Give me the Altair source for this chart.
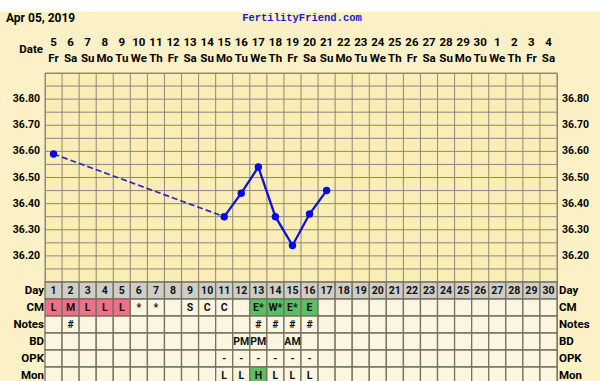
import altair as alt
import pandas as pd

# ---------------- data ----------------
days = list(range(1, 31))
date_nums = [5, 6, 7, 8, 9, 10, 11, 12, 13, 14, 15, 16, 17, 18, 19, 20, 21, 22, 23, 24,
             25, 26, 27, 28, 29, 30, 1, 2, 3, 4]
weekdays = ["Fr", "Sa", "Su", "Mo", "Tu", "We", "Th", "Fr", "Sa", "Su", "Mo", "Tu", "We", "Th",
            "Fr", "Sa", "Su", "Mo", "Tu", "We", "Th", "Fr", "Sa", "Su", "Mo", "Tu", "We", "Th",
            "Fr", "Sa"]

temp_days = [1, 11, 12, 13, 14, 15, 16, 17]
temps = [36.59, 36.35, 36.44, 36.54, 36.35, 36.24, 36.36, 36.45]

temp_labels = [36.20, 36.30, 36.40, 36.50, 36.60, 36.70, 36.80]
temp_grid = [36.10, 36.15, 36.20, 36.25, 36.30, 36.35, 36.40, 36.45, 36.50, 36.55,
             36.60, 36.65, 36.70, 36.75, 36.80, 36.85, 36.90]

row_names = ["Day", "CM", "Notes", "BD", "OPK", "Mon"]
cm_row = ["L", "M", "L", "L", "L", "*", "*", "", "S", "C", "C", "", "E*", "W*", "E*", "E"] + [""] * 14
notes_row = ["", "#"] + [""] * 10 + ["#", "#", "#", "#"] + [""] * 14
bd_row = [""] * 11 + ["PM", "PM", "", "AM"] + [""] * 15
opk_row = [""] * 10 + ["-", "-", "-", "-", "-", "-"] + [""] * 14
mon_row = [""] * 10 + ["L", "L", "H", "L", "L", "L"] + [""] * 14

cm_fill = ["pink"] * 5 + ["cream"] * 7 + ["green"] * 4 + ["cream"] * 14
mon_fill = ["cream"] * 12 + ["green"] + ["cream"] * 17

# ---------------- styling ----------------
OUTER = "#FCF1C6"
PLOT = "#FAEDB5"
CREAM = "#FCF5E2"
GRAY = "#CFCDC8"
PINK = "#EF7089"
GREEN = "#5DBE62"
GRID = "#8D8976"
TLINE = "#77735F"
FONT = "Roboto"
fill_map = {"cream": CREAM, "pink": PINK, "green": GREEN, "gray": GRAY}

X = alt.Scale(domain=[0.5, 30.5], nice=False, zero=False)
YT = alt.Scale(domain=[36.1, 36.9], range=[209, 0], nice=False, zero=False)
YR = alt.Scale(domain=[0, 6], range=[209, 311], nice=False, zero=False)

x_bounds = [d - 0.5 for d in days] + [30.5]

# ---------------- temperature part ----------------
dash_df = pd.DataFrame({"day": temp_days[:2], "temp": temps[:2]})
solid_df = pd.DataFrame({"day": temp_days[1:], "temp": temps[1:]})
pts_df = pd.DataFrame({"day": temp_days, "temp": temps})
lab_df = pd.DataFrame({"temp": temp_labels, "txt": [f"{t:.2f}" for t in temp_labels]})
vgrid_df = pd.DataFrame({"xb": x_bounds, "t0": [temp_grid[0]] * len(x_bounds),
                         "t1": [temp_grid[-1]] * len(x_bounds)})
hgrid_df = pd.DataFrame({"temp": temp_grid, "a": [x_bounds[0]] * len(temp_grid),
                         "b": [x_bounds[-1]] * len(temp_grid)})

vgrid = alt.Chart(vgrid_df).mark_rule(color=GRID, strokeWidth=1).encode(
    x=alt.X("xb:Q", scale=X, axis=None),
    y=alt.Y("t0:Q", scale=YT, axis=None), y2="t1:Q",
)
hgrid = alt.Chart(hgrid_df).mark_rule(color=GRID, strokeWidth=1).encode(
    x=alt.X("a:Q", scale=X, axis=None), x2="b:Q",
    y=alt.Y("temp:Q", scale=YT, axis=None),
)
dashed = alt.Chart(dash_df).mark_line(color="#2A2AC4", strokeWidth=1.7, strokeDash=[6, 3]).encode(
    x=alt.X("day:Q", scale=X, axis=None),
    y=alt.Y("temp:Q", scale=YT, axis=None),
)
solid = alt.Chart(solid_df).mark_line(color="#1212D6", strokeWidth=2.3).encode(
    x=alt.X("day:Q", scale=X, axis=None),
    y=alt.Y("temp:Q", scale=YT, axis=None),
)
points = alt.Chart(pts_df).mark_circle(color="#0808EE", size=55, opacity=1).encode(
    x=alt.X("day:Q", scale=X, axis=None),
    y=alt.Y("temp:Q", scale=YT, axis=None),
)
left_temp = alt.Chart(lab_df).mark_text(align="right", baseline="middle", font=FONT,
                                        fontWeight="bold", fontSize=10.5, color="black").encode(
    x=alt.value(-5),
    y=alt.Y("temp:Q", scale=YT, axis=None),
    text="txt:N",
)
right_temp = alt.Chart(lab_df).mark_text(align="left", baseline="middle", font=FONT,
                                         fontWeight="bold", fontSize=10.5, color="black").encode(
    x=alt.value(517),
    y=alt.Y("temp:Q", scale=YT, axis=None),
    text="txt:N",
)
temp_group = alt.layer(vgrid, hgrid, dashed, solid, points, left_temp, right_temp)

# ---------------- table part ----------------
recs = []
row_texts = [[str(d) for d in days], cm_row, notes_row, bd_row, opk_row, mon_row]
row_fills = [["gray"] * 30, cm_fill, ["cream"] * 30, ["cream"] * 30, ["cream"] * 30, mon_fill]
for r, name in enumerate(row_names):
    for i, d in enumerate(days):
        recs.append({"day": d, "x0": d - 0.5, "x1": d + 0.5, "r0": r, "r1": r + 1, "rc": r + 0.5,
                     "text": row_texts[r][i], "fill": fill_map[row_fills[r][i]]})
table_df = pd.DataFrame(recs)
rows_df = pd.DataFrame({"name": row_names, "rc": [r + 0.5 for r in range(len(row_names))]})

cells = alt.Chart(table_df).mark_rect(stroke=TLINE, strokeWidth=1.3).encode(
    x=alt.X("x0:Q", scale=X, axis=None), x2="x1:Q",
    y=alt.Y("r0:Q", scale=YR, axis=None), y2="r1:Q",
    fill=alt.Fill("fill:N", scale=None),
)
cell_text = alt.Chart(table_df).mark_text(baseline="middle", font=FONT, fontWeight="bold",
                                          fontSize=10.5, color="#111111").encode(
    x=alt.X("day:Q", scale=X, axis=None),
    y=alt.Y("rc:Q", scale=YR, axis=None),
    text="text:N",
)
left_rows = alt.Chart(rows_df).mark_text(align="right", baseline="middle", font=FONT,
                                         fontWeight="bold", fontSize=11.5, color="black").encode(
    x=alt.value(-1), y=alt.Y("rc:Q", scale=YR, axis=None), text="name:N")
right_rows = alt.Chart(rows_df).mark_text(align="left", baseline="middle", font=FONT,
                                          fontWeight="bold", fontSize=11.5, color="black").encode(
    x=alt.value(514), y=alt.Y("rc:Q", scale=YR, axis=None), text="name:N")
table_group = alt.layer(cells, cell_text, left_rows, right_rows)

# ---------------- header ----------------
hdr_df = pd.DataFrame({"day": days, "num": [str(n) for n in date_nums], "wd": weekdays})
nums = alt.Chart(hdr_df).mark_text(baseline="middle", font=FONT, fontWeight="bold", fontSize=11.5,
                                   color="black").encode(
    x=alt.X("day:Q", scale=X, axis=None), y=alt.value(-30), text="num:N")
wds = alt.Chart(hdr_df).mark_text(baseline="middle", font=FONT, fontWeight="bold", fontSize=11.5,
                                  color="black").encode(
    x=alt.X("day:Q", scale=X, axis=None), y=alt.value(-14), text="wd:N")

one = pd.DataFrame({"t": ["Apr 05, 2019"], "s": ["FertilityFriend.com"], "d": ["Date"]})
white_band = alt.Chart(one).mark_rect(color="white").encode(
    x=alt.value(-45), x2=alt.value(555), y=alt.value(-73), y2=alt.value(-61))
date_title = alt.Chart(one).mark_text(align="left", baseline="middle", font=FONT, fontWeight="bold",
                                      fontSize=12, color="black").encode(
    x=alt.value(-39), y=alt.value(-55), text="t:N")
site = alt.Chart(one).mark_text(align="center", baseline="middle", font="Liberation Mono",
                                fontWeight="bold", fontSize=10.5, color="#1A1ACD").encode(
    x=alt.value(257), y=alt.value(-55), text="s:N")
date_lab = alt.Chart(one).mark_text(align="right", baseline="middle", font=FONT, fontWeight="bold",
                                    fontSize=11.5, color="black").encode(
    x=alt.value(-2), y=alt.value(-23), text="d:N")

chart = alt.layer(
    white_band, temp_group, table_group, nums, wds, date_title, site, date_lab
).resolve_scale(y="independent").properties(
    width=512, height=308,
    autosize=alt.AutoSizeParams(type="none"),
    padding={"left": 45, "top": 73, "right": 43, "bottom": 0},
    background=OUTER,
).configure_view(fill=PLOT, stroke=GRID, strokeWidth=1)

chart.save("out.html", embed_options={"renderer": "svg", "actions": False})
